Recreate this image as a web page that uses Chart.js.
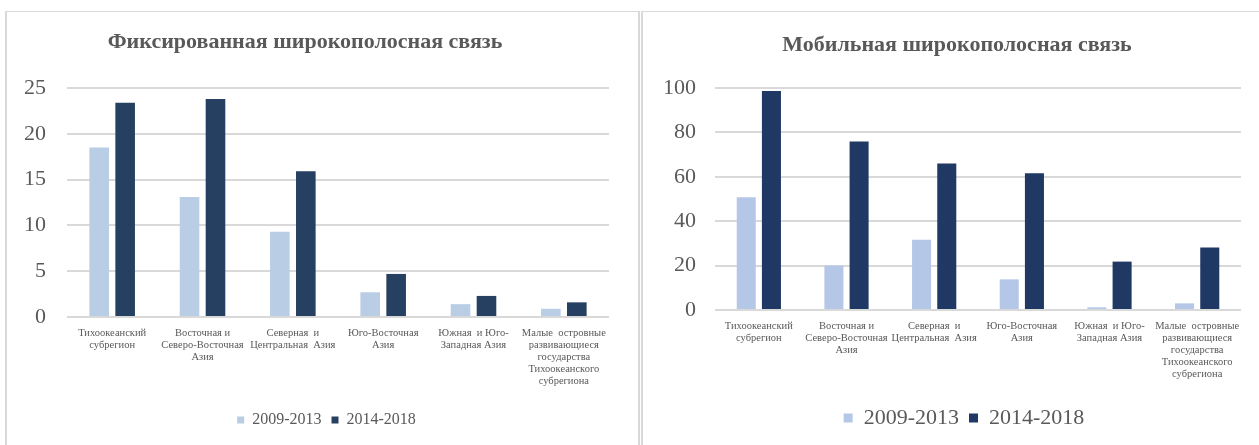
<!DOCTYPE html>
<html lang="ru">
<head>
<meta charset="utf-8">
<title>Широкополосная связь</title>
<script src="https://cdn.jsdelivr.net/npm/chart.js@4.4.1/dist/chart.umd.min.js"></script>
<style>
  html, body { margin: 0; padding: 0; background: #fff; }
  body { width: 1259px; height: 445px; position: relative; overflow: hidden; }
  .line { position: absolute; background: #d9d9d9; }
  canvas { position: absolute; }
</style>
</head>
<body>
<!-- рамки двух панелей -->
<div class="line" style="left:5px;top:11px;width:2px;height:434px"></div>
<div class="line" style="left:5px;top:11px;width:634px;height:1px"></div>
<div class="line" style="left:638px;top:11px;width:2px;height:434px"></div>
<div class="line" style="left:641px;top:11px;width:2px;height:434px"></div>
<div class="line" style="left:641px;top:11px;width:618px;height:1px"></div>

<canvas id="fixedChart" width="639" height="433" style="left:7px;top:12px"></canvas>
<canvas id="mobileChart" width="642" height="433" style="left:643px;top:12px"></canvas>

<script>
// Регионы (подписи оси X, по строкам)
const regions = [
  ["Тихоокеанский", "субрегион"],
  ["Восточная и", "Северо-Восточная", "Азия"],
  ["Северная  и", "Центральная  Азия"],
  ["Юго-Восточная", "Азия"],
  ["Южная  и Юго-", "Западная Азия"],
  ["Малые  островные", "развивающиеся", "государства", "Тихоокеанского", "субрегиона"]
];
const periods = ["2009-2013", "2014-2018"];

// Фиксированная широкополосная связь
const fixed2009 = [18.5, 13.1, 9.3, 2.7, 1.4, 0.9];
const fixed2014 = [23.4, 23.8, 15.9, 4.7, 2.3, 1.6];
const fixedTicks = [0, 5, 10, 15, 20, 25];

// Мобильная широкополосная связь
const mobile2009 = [50.8, 20.0, 31.7, 13.8, 1.2, 3.0];
const mobile2014 = [98.6, 75.9, 66.0, 61.6, 21.8, 28.1];
const mobileTicks = [0, 20, 40, 60, 80, 100];

const SERIF = "'Liberation Serif', 'Times New Roman', serif";
const GREY = '#595959';

// заголовок рисуем сами, чтобы поставить его не по центру холста
const chartHeading = {
  id: 'chartHeading',
  afterDraw(chart, args, opts) {
    const ctx = chart.ctx;
    ctx.save();
    ctx.font = `bold ${opts.size}px ${SERIF}`;
    ctx.fillStyle = GREY;
    ctx.textAlign = 'center';
    ctx.textBaseline = 'middle';
    ctx.fillText(opts.text, opts.x, opts.y);
    ctx.restore();
  }
};

function makeChart(id, cfg) {
  const ticks = cfg.ticks;
  return new Chart(document.getElementById(id), {
    type: 'bar',
    data: {
      labels: regions,
      datasets: [
        { label: periods[0], data: cfg.a, backgroundColor: cfg.light, yAxisID: 'y' },
        { label: periods[1], data: cfg.b, backgroundColor: cfg.dark, yAxisID: 'y' }
      ]
    },
    plugins: [chartHeading],
    options: {
      responsive: false,
      animation: false,
      categoryPercentage: 0.575,
      barPercentage: 0.755,
      layout: { padding: { top: 76, left: 0, right: 0, bottom: cfg.padBottom } },
      plugins: {
        chartHeading: { text: cfg.title, x: cfg.titleX, y: cfg.titleY, size: 22 },
        title: { display: false },
        tooltip: { enabled: false },
        legend: {
          position: 'bottom',
          labels: {
            boxWidth: cfg.box,
            boxHeight: cfg.box,
            padding: 10,
            color: GREY,
            font: { family: SERIF, size: cfg.legendSize }
          }
        }
      },
      scales: {
        x: {
          grid: { display: false, drawTicks: false },
          border: { display: false },
          ticks: {
            color: GREY,
            padding: 10,
            maxRotation: 0,
            autoSkip: false,
            font: { family: SERIF, size: 10.5, lineHeight: 1.15 }
          },
          afterFit: s => { s.height = cfg.xHeight; }
        },
        y: {
          min: 0,
          max: ticks[ticks.length - 1],
          afterBuildTicks: s => { s.ticks = ticks.map(v => ({ value: v })); },
          grid: { color: '#d9d9d9', lineWidth: 2, drawTicks: false },
          border: { display: false },
          ticks: {
            color: GREY,
            padding: cfg.yPad,
            font: { family: SERIF, size: 22 }
          },
          afterFit: s => { s.width = cfg.yWidth; }
        },
        // пустое поле справа от области графика
        spacer: {
          type: 'linear',
          position: 'right',
          grid: { display: false },
          border: { display: false },
          ticks: { display: false },
          afterFit: s => { s.width = cfg.rightGap; }
        }
      }
    }
  });
}

makeChart('fixedChart', {
  title: 'Фиксированная широкополосная связь',
  titleX: 298, titleY: 30,
  a: fixed2009, b: fixed2014, ticks: fixedTicks,
  light: '#b9cde5', dark: '#254061',
  padBottom: 7, xHeight: 85,
  yWidth: 60, yPad: 21, rightGap: 37,
  box: 7, legendSize: 16
});

makeChart('mobileChart', {
  title: 'Мобильная широкополосная связь',
  titleX: 314, titleY: 33,
  a: mobile2009, b: mobile2014, ticks: mobileTicks,
  light: '#b4c7e7', dark: '#1f3864',
  padBottom: 6, xHeight: 87,
  yWidth: 72, yPad: 19, rightGap: 44,
  box: 9, legendSize: 22
});
</script>
</body>
</html>
